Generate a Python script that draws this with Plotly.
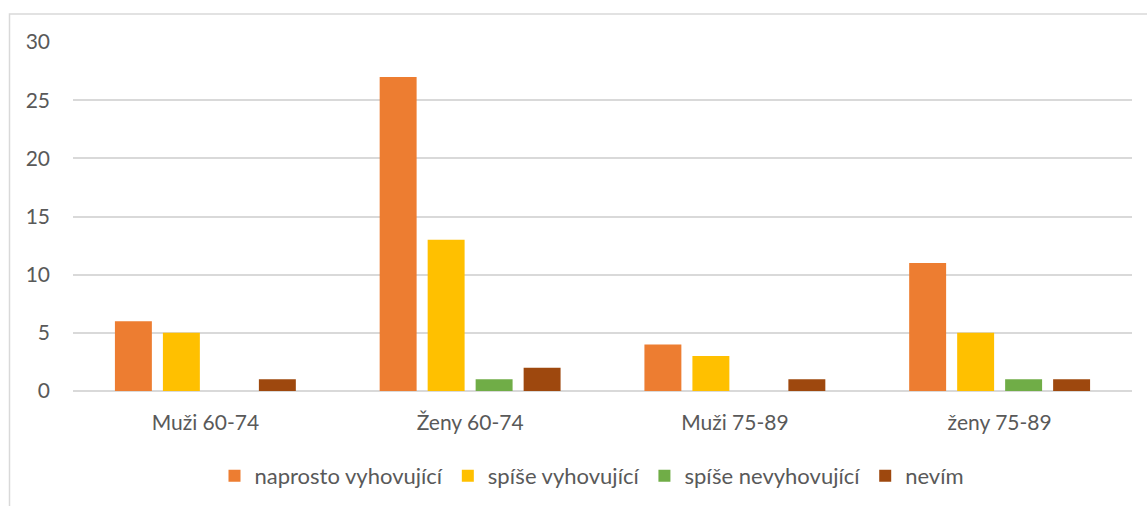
import plotly.graph_objects as go

categories = ["Muži 60-74", "Ženy 60-74", "Muži 75-89", "ženy 75-89"]
series_names = ["naprosto vyhovující", "spíše vyhovující", "spíše nevyhovující", "nevím"]
naprosto = [6, 27, 4, 11]
spise_vyh = [5, 13, 3, 5]
spise_nevyh = [0, 1, 0, 1]
nevim = [1, 2, 1, 1]
y_ticks = [0, 5, 10, 15, 20, 25, 30]

colors = ["#ED7D31", "#FFC000", "#70AD47", "#9E480E"]
values = [naprosto, spise_vyh, spise_nevyh, nevim]

W, H = 1147, 506
ml, mr, mt, mb = 73, 15, 42, 115
pw = W - ml - mr
ph = H - mt - mb

fig = go.Figure()
for name, vals, c in zip(series_names, values, colors):
    fig.add_trace(go.Bar(x=categories, y=vals, name=name, marker=dict(color=c, line=dict(width=0))))

font_family = "Lato, 'Open Sans', sans-serif"
text_color = "#595959"
grid_color = "#D9D9D9"

def px_to_paper_x(px):
    return (px - ml) / pw

def px_to_paper_y(py):
    return (H - mb - py) / ph

fig.update_layout(
    width=W, height=H,
    margin=dict(l=ml, r=mr, t=mt, b=mb, pad=0, autoexpand=False),
    paper_bgcolor="white", plot_bgcolor="white",
    barmode="group", bargap=0.275, bargroupgap=0.23,
    font=dict(family=font_family, size=21, color=text_color),
    showlegend=True,
    legend=dict(orientation="h", xref="container", yref="container",
                x=592 / W, xanchor="center", y=1 - 476 / H, yanchor="middle",
                font=dict(size=22, color=text_color), bgcolor="rgba(0,0,0,0)",
                traceorder="normal", itemwidth=30),
    xaxis=dict(showgrid=False, showline=False, ticks="", zeroline=False, automargin=False,
               tickfont=dict(size=21, color=text_color), ticklabelstandoff=17),
    yaxis=dict(range=[0, 30], tickvals=y_ticks, showgrid=True, gridcolor=grid_color, gridwidth=1.5,
               zeroline=True, zerolinecolor=grid_color, zerolinewidth=1.5, automargin=False,
               showline=False, ticks="", tickfont=dict(size=21, color=text_color),
               ticklabelstandoff=22),
    shapes=[dict(type="rect", xref="paper", yref="paper",
                 x0=px_to_paper_x(9.5), x1=px_to_paper_x(1160),
                 y0=px_to_paper_y(520), y1=px_to_paper_y(14),
                 line=dict(color=grid_color, width=1.5), fillcolor="rgba(0,0,0,0)", layer="below")],
)

fig.write_html("out.html",
               config={"displayModeBar": False},
               post_script="document.body.style.margin='0';document.body.style.overflow='hidden';")
